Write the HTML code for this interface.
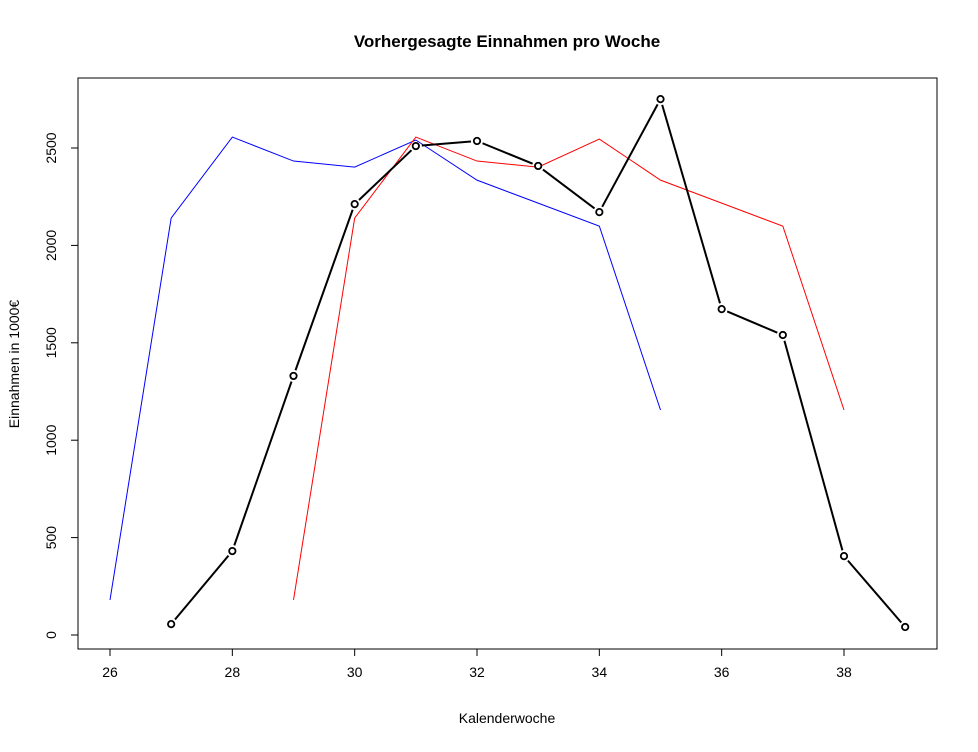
<!DOCTYPE html>
<html><head><meta charset="utf-8"><style>
body{margin:0;background:#fff;}
svg text{font-family:"Liberation Sans",Arial,sans-serif;fill:#000;}
</style></head><body>
<svg id="chart" width="978" height="747" xmlns="http://www.w3.org/2000/svg">
<rect width="978" height="747" fill="#fff"/>
<text x="507" y="47" text-anchor="middle" font-size="17" font-weight="bold">Vorhergesagte Einnahmen pro Woche</text>
<rect x="78" y="78" width="859" height="571" fill="none" stroke="#000" stroke-width="1"/>
<text x="507" y="723" text-anchor="middle" font-size="14">Kalenderwoche</text>
<text transform="translate(19,364) rotate(-90)" text-anchor="middle" font-size="14">Einnahmen in 1000€</text>
<g id="axes"></g>
<g id="series"></g>
</svg>
<script>
const xTicks=[26,28,30,32,34,36,38];
const yTicks=[0,500,1000,1500,2000,2500];
const blackWeeks=[27,28,29,30,31,32,33,34,35,36,37,38,39];
const blackValues=[56,431,1330,2212,2510,2536,2408,2171,2751,1673,1540,405,41];
const blueWeeks=[26,27,28,29,30,31,32,33,34,35];
const blueValues=[180,2140,2556,2433,2402,2541,2335,2217,2099,1155];
const redWeeks=[29,30,31,32,33,34,35,36,37,38];
const redValues=[180,2140,2556,2433,2402,2546,2335,2217,2099,1155];

const NS="http://www.w3.org/2000/svg";
const xs=w=>110+(w-26)*(844-110)/12;
const ys=v=>635-v*(635-148)/2500;
function mk(tag,attrs,parent){const e=document.createElementNS(NS,tag);for(const k in attrs)e.setAttribute(k,attrs[k]);parent.appendChild(e);return e;}
const axes=document.getElementById('axes');
mk('line',{x1:xs(26),x2:xs(38),y1:649,y2:649,stroke:'#000'},axes);
xTicks.forEach(t=>{
  const l=mk('line',{x1:xs(t),x2:xs(t),y1:649,y2:656,stroke:'#000'},axes);
  
  
  const tx=mk('text',{x:xs(t),y:677,'text-anchor':'middle','font-size':14},axes);
  tx.textContent=t;
  
  
});
mk('line',{x1:78,x2:78,y1:ys(0),y2:ys(2500),stroke:'#000'},axes);
yTicks.forEach(t=>{
  const l=mk('line',{x1:71,x2:78,y1:ys(t),y2:ys(t),stroke:'#000'},axes);
  
  
  const tx=mk('text',{transform:`translate(56,${ys(t)}) rotate(-90)`,'text-anchor':'middle','font-size':14},axes);
  tx.textContent=t;
  
  
});
const ser=document.getElementById('series');
function line(ws,vs,color,width,name){
  const p=mk('polyline',{points:ws.map((w,i)=>xs(w)+','+ys(vs[i])).join(' '),fill:'none',stroke:color,'stroke-width':width},ser);
  
  
}
line(blueWeeks,blueValues,'#0000ff',1,'blue-series-line');
line(redWeeks,redValues,'#ff0000',1,'red-series-line');
const gap=6;
for(let i=0;i<blackWeeks.length-1;i++){
  const x1=xs(blackWeeks[i]),y1=ys(blackValues[i]),x2=xs(blackWeeks[i+1]),y2=ys(blackValues[i+1]);
  const d=Math.hypot(x2-x1,y2-y1),ux=(x2-x1)/d,uy=(y2-y1)/d;
  const s=mk('line',{x1:x1+ux*gap,y1:y1+uy*gap,x2:x2-ux*gap,y2:y2-uy*gap,stroke:'#000','stroke-width':2},ser);
  
  
}
blackWeeks.forEach((w,i)=>{
  const c=mk('circle',{cx:xs(w),cy:ys(blackValues[i]),r:3.2,fill:'#fff',stroke:'#000','stroke-width':1.8},ser);
  
  
});
</script>
</body></html>
